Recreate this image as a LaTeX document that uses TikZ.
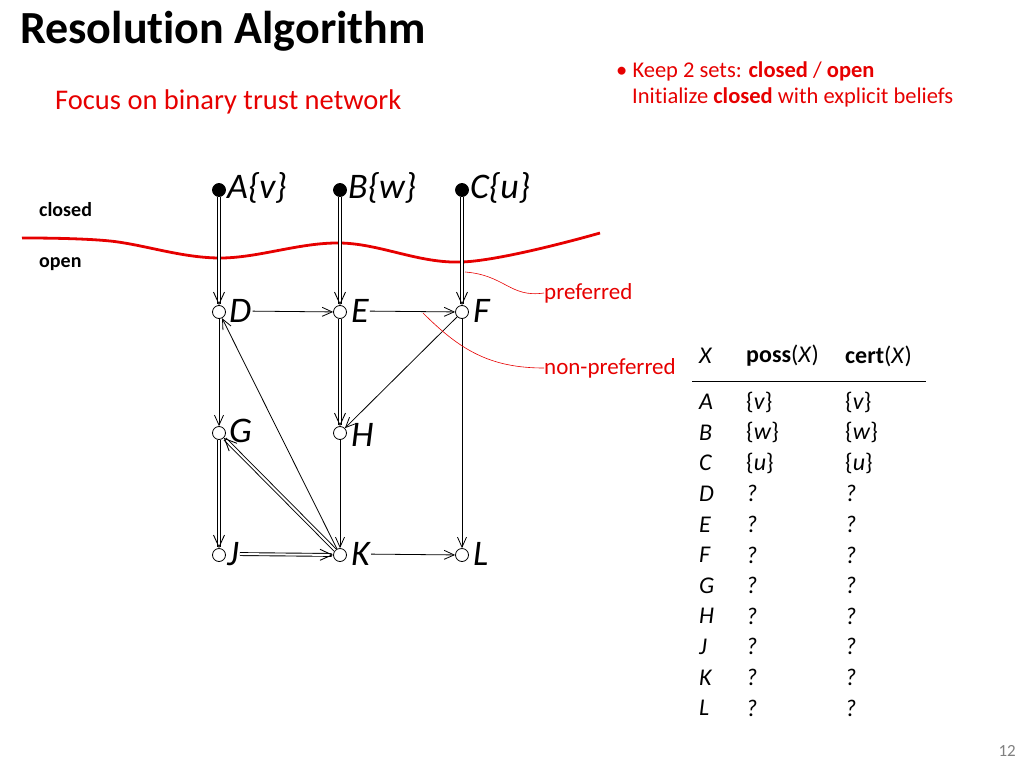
\documentclass[tikz,border=0pt]{standalone}
\usepackage{fontspec}
\setmainfont[RawFeature=-liga]{Carlito}
\usetikzlibrary{arrows.meta}
\definecolor{rd}{RGB}{230,0,0}
\begin{document}
\begin{tikzpicture}[x=1pt,y=-1pt,
  vtx/.style={circle,draw,fill=white,inner sep=0pt,minimum size=13pt,line width=0.8pt},
  cls/.style={vtx,fill=black},
  lab/.style={font=\fontsize{36}{38}\selectfont\itshape,anchor=west,inner sep=1pt},
  ed/.style={-{Straight Barb[length=10pt,width=9pt]},line width=0.8pt},
  pref/.style={-{Straight Barb[length=12pt,width=11pt]},double=white,double distance=2pt,line width=0.9pt},
  tb/.style={font=\fontsize{24}{26}\selectfont,anchor=west,inner sep=0pt},
  rtx/.style={text=rd,anchor=west,inner sep=0pt}]
\useasboundingbox (0,0) rectangle (1024,768);
\node[anchor=west,inner sep=0pt,font=\fontsize{46}{48}\selectfont\bfseries] (title) at (20,31) {Resolution Algorithm};
\node[rtx,font=\fontsize{28.5}{30}\selectfont] (focus) at (55,102) {Focus on binary trust network};
\node[rtx,font=\fontsize{22.5}{24}\selectfont] (b1) at (616,71) {\textbullet\ Keep 2 sets: \textbf{closed} / \textbf{open}};
\node[rtx,font=\fontsize{22.5}{24}\selectfont] (b2) at (632,97) {Initialize \textbf{closed} with explicit beliefs};
\node[anchor=west,inner sep=0pt,font=\fontsize{20}{22}\selectfont\bfseries] (cl) at (39,210) {closed};
\node[anchor=west,inner sep=0pt,font=\fontsize{20}{22}\selectfont\bfseries] (op) at (39,264) {open};
\node[anchor=east,inner sep=0pt,text=gray,font=\fontsize{17}{19}\selectfont] (pg) at (1016,751) {12};
% red wave
\draw[rd,line width=2.8pt] plot[smooth,tension=0.6] coordinates {(22,238) (110,241) (219,258) (340,243) (462,262) (600,233)};
% nodes
\node[cls] (A) at (219,190) {}; \node[lab] (lA) at (226,188) {A\{v\}};
\node[cls] (B) at (340,190) {}; \node[lab] (lB) at (347,188) {B\{w\}};
\node[cls] (C) at (462,190) {}; \node[lab] (lC) at (469,188) {C\{u\}};
\node[vtx] (D) at (219,312) {}; \node[lab] (lD) at (228,311) {D};
\node[vtx] (E) at (340,312) {}; \node[lab] (lE) at (350,311) {E};
\node[vtx] (F) at (462,312) {}; \node[lab] (lF) at (472,311) {F};
\node[vtx] (G) at (219,433) {}; \node[lab] (lG) at (228,431) {G};
\node[vtx] (H) at (340,433) {}; \node[lab] (lH) at (350,435) {H};
\node[vtx] (J) at (219,555) {}; \node[lab] (lJ) at (226,554) {J};
\node[vtx] (K) at (340,555) {}; \node[lab] (lK) at (350,554) {K};
\node[vtx] (L) at (462,555) {}; \node[lab] (lL) at (472,554) {L};
% edges
\draw[pref] (A) -- (D);
\draw[pref] (B) -- (E);
\draw[pref] (C) -- (F);
\draw[pref] (E) -- (H);
\draw[pref] (G) -- (J);
\draw[pref] (lJ) -- (K);
\draw[pref] (K) -- (G);
\draw[ed] (lD) -- (E);
\draw[ed] (lE) -- (F);
\draw[ed] (lK) -- (L);
\draw[ed] (D) -- (G);
\draw[ed] (H) -- (K);
\draw[ed] (F) -- (L);
\draw[ed] (K) -- (D);
\draw[ed] (F) -- (H);
% labels
\node[rtx,font=\fontsize{23}{25}\selectfont] (pr) at (544,293) {preferred};
\node[rtx,font=\fontsize{23}{25}\selectfont] (np) at (544,368) {non-preferred};
\coordinate (p1) at (465,272); \coordinate (p2) at (423,313);
\draw[rd,line width=0.6pt] (p1) .. controls (505,275) and (510,298) .. (pr.west);
\draw[rd,line width=0.6pt] (p2) .. controls (460,350) and (490,368) .. (np.west);
% table
\node[tb] (hX) at (699,356) {\itshape X};
\node[tb] (hp) at (746,356) {\textbf{poss}(\textit{X})};
\node[tb] (hc) at (845,356) {\textbf{cert}(\textit{X})};
\coordinate (t1) at (692,381); \coordinate (t2) at (926,381);
\draw[line width=0.8pt] (t1) -- (t2);
\foreach \n/\p/\c [count=\i from 0] in {A/\{\textit{v}\}/\{\textit{v}\},B/\{\textit{w}\}/\{\textit{w}\},C/\{\textit{u}\}/\{\textit{u}\},D/\textit{?}/\textit{?},E/\textit{?}/\textit{?},F/\textit{?}/\textit{?},G/\textit{?}/\textit{?},H/\textit{?}/\textit{?},J/\textit{?}/\textit{?},K/\textit{?}/\textit{?},L/\textit{?}/\textit{?}}{
  \node[tb] (r\n) at (699,402+30.6*\i) {\textit{\n}};
  \node[tb] (p\n) at (746,402+30.6*\i) {\p};
  \node[tb] (c\n) at (845,402+30.6*\i) {\c};
}
\end{tikzpicture}
\end{document}
